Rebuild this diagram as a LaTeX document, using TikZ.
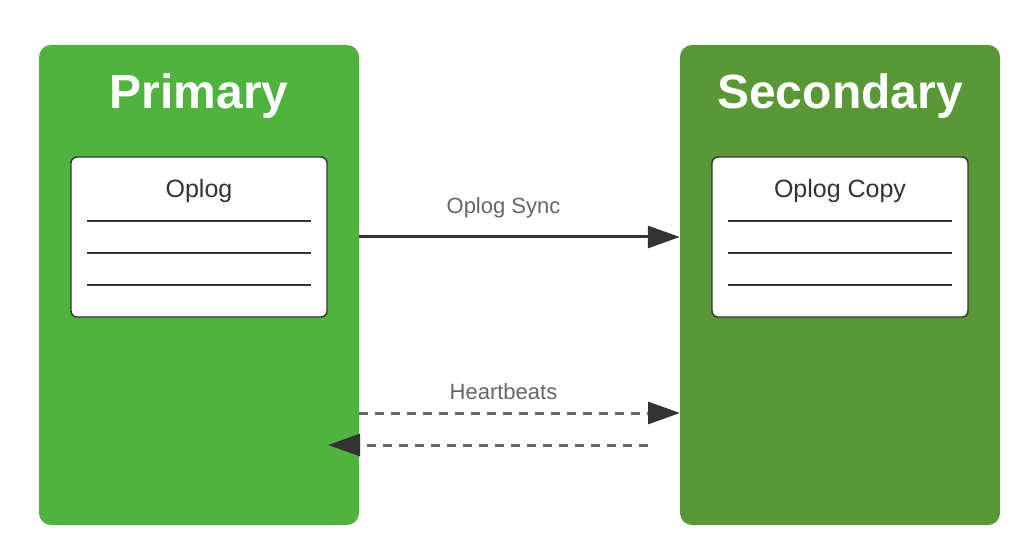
\documentclass[tikz,border=0pt]{standalone}
\usepackage{fontspec}
\setmainfont{Liberation Sans}
\usetikzlibrary{arrows.meta}
\definecolor{primgreen}{HTML}{50B33F}
\definecolor{secgreen}{HTML}{5A9837}
\definecolor{darkline}{HTML}{333333}
\definecolor{labelgray}{HTML}{666666}
\tikzset{
  server/.style={rectangle, rounded corners=12pt, minimum width=320pt, minimum height=480pt, inner sep=0pt, draw=none},
  servertitle/.style={text=white, font=\fontsize{48}{56}\selectfont\bfseries, inner sep=0pt},
  logbox/.style={rectangle, rounded corners=6pt, fill=white, draw=darkline, line width=1.4pt, minimum width=256pt, minimum height=160pt, inner sep=0pt},
  logtitle/.style={text=darkline, font=\fontsize{25}{30}\selectfont, inner sep=0pt},
  logline/.style={draw=darkline, line width=1.4pt},
  linklabel/.style={text=labelgray, font=\fontsize{22}{26}\selectfont, inner sep=0pt},
  solidlink/.style={draw=darkline, line width=3pt, -{Triangle[length=32pt,width=22pt]}},
  dashlink/.style={draw=labelgray, line width=3pt, dash pattern=on 9pt off 7pt, -{Triangle[length=32pt,width=22pt,color=darkline]}}
}
\begin{document}
\begin{tikzpicture}[x=1pt,y=-1pt]
\useasboundingbox[fill=white] (0,0) rectangle (1020,556);
% servers
\node[server, fill=primgreen] (primary) at (199,285) {};
\node[server, fill=secgreen] (secondary) at (840,285) {};
\node[servertitle] (primtitle) at (199,96) {Primary};
\node[servertitle] (sectitle) at (840,96) {Secondary};
% log boxes
\node[logbox] (oplog) at (199,237) {};
\node[logbox] (oplogcopy) at (840,237) {};
\node[logtitle] (oplogtitle) at (199,191) {Oplog};
\node[logtitle] (oplogcopytitle) at (840,191) {Oplog Copy};
\foreach \y in {221,253,285} {
  \draw[logline] (87,\y) -- (311,\y);
  \draw[logline] (728,\y) -- (952,\y);
}
% connectors
\draw[solidlink] (primary.east |- oplog.center) -- (secondary.west |- oplog.center);
\node[linklabel] (synclabel) at (503.5,208) {Oplog Sync};
\coordinate (hbA) at (359,413);
\coordinate (hbB) at (680,413);
\coordinate (hbC) at (648,445);
\coordinate (hbD) at (328,445);
\draw[dashlink] (hbA) -- (hbB);
\draw[dashlink] (hbC) -- (hbD);
\node[linklabel] (hblabel) at (503.5,392) {Heartbeats};
\end{tikzpicture}
\end{document}
